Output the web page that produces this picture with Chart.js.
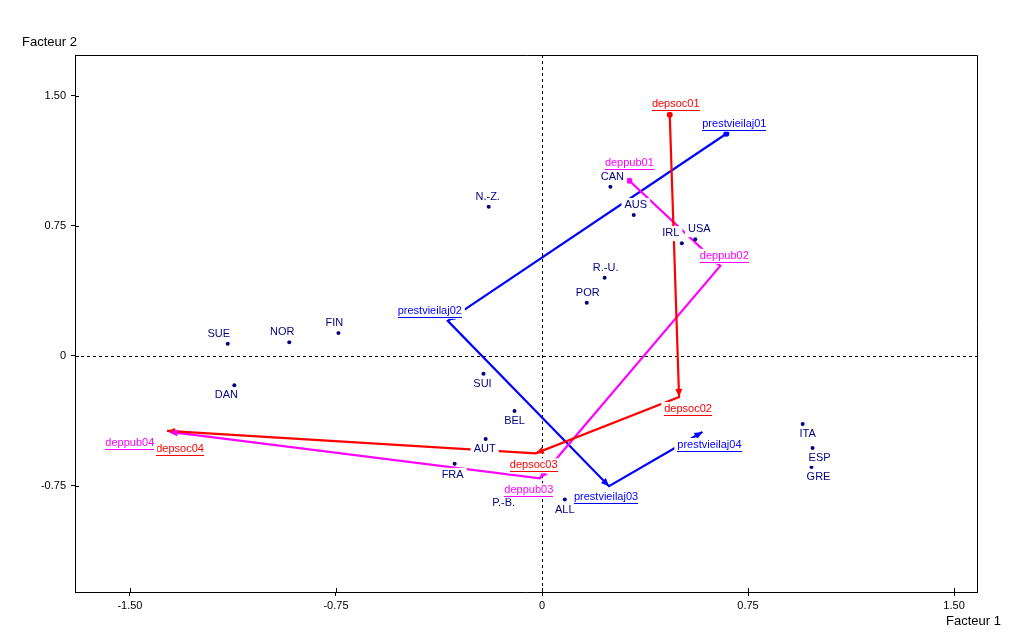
<!DOCTYPE html>
<html>
<head>
<meta charset="utf-8">
<title>ACP - Facteur 1 / Facteur 2</title>
<script src="https://cdn.jsdelivr.net/npm/chart.js@4/dist/chart.umd.min.js"></script>
<style>
  html, body { margin: 0; padding: 0; background: #fff; }
  #box { width: 1020px; height: 637px; }
</style>
</head>
<body>
<div id="box"><canvas id="acpChart" width="1020" height="637"></canvas></div>
<script>
// individus (pays) : coordonnees sur facteur 1 et facteur 2
var pays   = ['CAN', 'AUS', 'N.-Z.', 'IRL', 'USA', 'R.-U.', 'POR', 'SUE', 'NOR', 'FIN',
              'DAN', 'SUI', 'BEL', 'AUT', 'FRA', 'P.-B.', 'ALL', 'ITA', 'ESP', 'GRE'];
var paysF1 = [0.249, 0.334, -0.194, 0.509, 0.558, 0.228, 0.163, -1.144, -0.920, -0.741,
              -1.120, -0.213, -0.100, -0.205, -0.318, -0.136, 0.083, 0.949, 0.985, 0.981];
var paysF2 = [0.974, 0.811, 0.859, 0.649, 0.672, 0.449, 0.305, 0.068, 0.078, 0.130,
              -0.170, -0.105, -0.319, -0.480, -0.624, -0.793, -0.830, -0.394, -0.532, -0.642];

// variables supplementaires : trajectoires 01 -> 02 -> 03 -> 04
var depsocNoms = ['depsoc01', 'depsoc02', 'depsoc03', 'depsoc04'];
var depsocF1   = [0.465, 0.499, -0.023, -1.365];
var depsocF2   = [1.389, -0.238, -0.563, -0.434];

var deppubNoms = ['deppub01', 'deppub02', 'deppub03', 'deppub04'];
var deppubF1   = [0.318, 0.649, -0.008, -1.355];
var deppubF2   = [1.009, 0.518, -0.707, -0.440];

var prestNoms = ['prestvieilaj01', 'prestvieilaj02', 'prestvieilaj03', 'prestvieilaj04'];
var prestF1   = [0.671, -0.343, 0.244, 0.584];
var prestF2   = [1.280, 0.201, -0.753, -0.440];

// graduations
var axeTicks = [-1.5, -0.75, 0, 0.75, 1.5];
var axeLabels = ['-1.50', '-0.75', '0', '0.75', '1.50'];

// placement des etiquettes (decalage en pixels du centre du texte)
var paysDecal = {
  'CAN': [2, -10], 'AUS': [2, -10], 'N.-Z.': [-1, -10], 'IRL': [-11, -10], 'USA': [4, -10],
  'R.-U.': [1, -10], 'POR': [1, -10], 'SUE': [-9, -10], 'NOR': [-7, -10], 'FIN': [-4, -10],
  'DAN': [-8, 10], 'SUI': [-1, 10], 'BEL': [0, 10], 'AUT': [-1, 10], 'FRA': [-2, 11],
  'P.-B.': [-1, 10], 'ALL': [0, 10], 'ITA': [5, 10], 'ESP': [7, 10], 'GRE': [7, 10]
};
var depsocDecal = [[6, -11], [9, 12], [-2, 12], [13, 18]];
var deppubDecal = [[0, -18], [4, -10], [-11, 12], [-40, 11]];
var prestDecal  = [[8, -10], [-18, -10], [-3, 11], [7, 13]];

var police = '"Liberation Sans", Arial, sans-serif';
var bleuPays = '#000080';

function points(xs, ys) {
  var out = [];
  for (var i = 0; i < xs.length; i++) {
    out.push({x: xs[i], y: ys[i]});
  }
  return out;
}

function trajectoire(nom, xs, ys, couleur, noms, decal) {
  return {
    label: nom,
    data: points(xs, ys),
    showLine: true,
    borderColor: couleur,
    backgroundColor: couleur,
    borderWidth: 2.2,
    pointRadius: [3, 0, 0, 0],
    pointBorderWidth: 0,
    noms: noms,
    decal: decal,
    fleches: true
  };
}

// seulement les graduations dans l'intervalle de l'axe
function graduations(scale) {
  scale.ticks = axeTicks.filter(function(v) {
    return v >= scale.min && v <= scale.max;
  }).map(function(v) { return {value: v}; });
}

// etiquette avec fond blanc (masque les traits en dessous, comme l'original)
function etiquette(ctx, texte, x, y, couleur, souligne) {
  ctx.font = '11px ' + police;
  var w = ctx.measureText(texte).width;
  ctx.fillStyle = '#ffffff';
  ctx.fillRect(x - w / 2 - 3, y - 7, w + 6, 15);
  ctx.fillStyle = couleur;
  ctx.textAlign = 'center';
  ctx.textBaseline = 'middle';
  ctx.fillText(texte, x, y);
  if (souligne) {
    ctx.strokeStyle = couleur;
    ctx.lineWidth = 1;
    ctx.beginPath();
    ctx.moveTo(Math.round(x - w / 2), Math.round(y) + 6.5);
    ctx.lineTo(Math.round(x + w / 2), Math.round(y) + 6.5);
    ctx.stroke();
  }
}

var decor = {
  id: 'decor',
  beforeDatasetsDraw: function(chart) {
    var ctx = chart.ctx, a = chart.chartArea;
    var sx = chart.scales.x, sy = chart.scales.y;
    ctx.save();
    ctx.strokeStyle = '#000';
    ctx.lineWidth = 1;
    // cadre (haut + droite, le bas et la gauche sont les bordures des axes)
    ctx.beginPath();
    ctx.moveTo(a.left, Math.round(a.top) + 0.5);
    ctx.lineTo(Math.round(a.right) + 0.5, Math.round(a.top) + 0.5);
    ctx.lineTo(Math.round(a.right) + 0.5, a.bottom);
    ctx.stroke();
    // petits traits vers l'interieur
    ctx.beginPath();
    sx.ticks.forEach(function(t) {
      var px = Math.round(sx.getPixelForValue(t.value)) + 0.5;
      ctx.moveTo(px, a.bottom);
      ctx.lineTo(px, a.bottom - 4);
    });
    sy.ticks.forEach(function(t) {
      var py = Math.round(sy.getPixelForValue(t.value)) + 0.5;
      ctx.moveTo(a.left, py);
      ctx.lineTo(a.left + 4, py);
    });
    ctx.stroke();
    // axes pointilles en 0
    ctx.setLineDash([3, 3]);
    ctx.beginPath();
    var x0 = Math.round(sx.getPixelForValue(0)) + 0.5;
    var y0 = Math.round(sy.getPixelForValue(0)) + 0.5;
    ctx.moveTo(x0, a.top);
    ctx.lineTo(x0, a.bottom);
    ctx.moveTo(a.left, y0);
    ctx.lineTo(a.right, y0);
    ctx.stroke();
    ctx.restore();
  },
  afterDatasetsDraw: function(chart) {
    var ctx = chart.ctx, a = chart.chartArea;
    ctx.save();
    // fleches au bout de chaque segment
    chart.data.datasets.forEach(function(ds, di) {
      if (!ds.fleches) return;
      var pts = chart.getDatasetMeta(di).data;
      for (var i = 1; i < pts.length; i++) {
        var p0 = pts[i - 1], p1 = pts[i];
        var ang = Math.atan2(p1.y - p0.y, p1.x - p0.x);
        ctx.fillStyle = ds.borderColor;
        ctx.beginPath();
        ctx.moveTo(p1.x, p1.y);
        ctx.lineTo(p1.x - 8 * Math.cos(ang) + 3.5 * Math.sin(ang), p1.y - 8 * Math.sin(ang) - 3.5 * Math.cos(ang));
        ctx.lineTo(p1.x - 8 * Math.cos(ang) - 3.5 * Math.sin(ang), p1.y - 8 * Math.sin(ang) + 3.5 * Math.cos(ang));
        ctx.closePath();
        ctx.fill();
      }
    });
    // etiquettes des pays
    var mp = chart.getDatasetMeta(0).data;
    pays.forEach(function(nom, i) {
      var d = paysDecal[nom];
      etiquette(ctx, nom, mp[i].x + d[0], mp[i].y + d[1], bleuPays, false);
    });
    // etiquettes des variables
    chart.data.datasets.forEach(function(ds, di) {
      if (!ds.noms) return;
      var pts = chart.getDatasetMeta(di).data;
      ds.noms.forEach(function(nom, i) {
        etiquette(ctx, nom, pts[i].x + ds.decal[i][0], pts[i].y + ds.decal[i][1], ds.borderColor, true);
      });
    });
    // titres des axes
    ctx.font = '13px ' + police;
    ctx.fillStyle = '#000';
    ctx.textAlign = 'left';
    ctx.textBaseline = 'middle';
    ctx.fillText('Facteur 2', a.left - 53, a.top - 13);
    ctx.fillText('Facteur 1', a.right - 31, a.bottom + 29);
    ctx.restore();
  }
};

var ctx = document.getElementById('acpChart').getContext('2d');
var acpChart = new Chart(ctx, {
  type: 'scatter',
  data: {
    datasets: [{
      label: 'pays',
      data: points(paysF1, paysF2),
      pointRadius: 2,
      pointBorderWidth: 0,
      backgroundColor: bleuPays,
      borderColor: bleuPays,
      showLine: false
    },
    trajectoire('depsoc', depsocF1, depsocF2, '#ff0000', depsocNoms, depsocDecal),
    trajectoire('deppub', deppubF1, deppubF2, '#ff00ff', deppubNoms, deppubDecal),
    trajectoire('prestvieilaj', prestF1, prestF2, '#0000ff', prestNoms, prestDecal)
    ]
  },
  options: {
    responsive: false,
    animation: false,
    layout: { padding: { left: 25, right: 43, top: 55, bottom: 15 } },
    plugins: {
      legend: { display: false },
      tooltip: { enabled: false }
    },
    scales: {
      x: {
        type: 'linear',
        min: -1.70,
        max: 1.5835,
        afterBuildTicks: graduations,
        afterFit: function(scale) { scale.height = 30; },
        ticks: {
          autoSkip: false,
          maxRotation: 0,
          padding: 3,
          color: '#000',
          font: { family: police, size: 11 },
          callback: function(val) { return axeLabels[axeTicks.indexOf(val)]; }
        },
        grid: { drawOnChartArea: false, tickLength: 4, color: '#000' },
        border: { color: '#000', width: 1 }
      },
      y: {
        type: 'linear',
        min: -1.363,
        max: 1.734,
        afterBuildTicks: graduations,
        afterFit: function(scale) { scale.width = 50; },
        ticks: {
          autoSkip: false,
          padding: 5,
          color: '#000',
          font: { family: police, size: 11 },
          callback: function(val) { return axeLabels[axeTicks.indexOf(val)]; }
        },
        grid: { drawOnChartArea: false, tickLength: 4, color: '#000' },
        border: { color: '#000', width: 1 }
      }
    }
  },
  plugins: [decor]
});
</script>
</body>
</html>
